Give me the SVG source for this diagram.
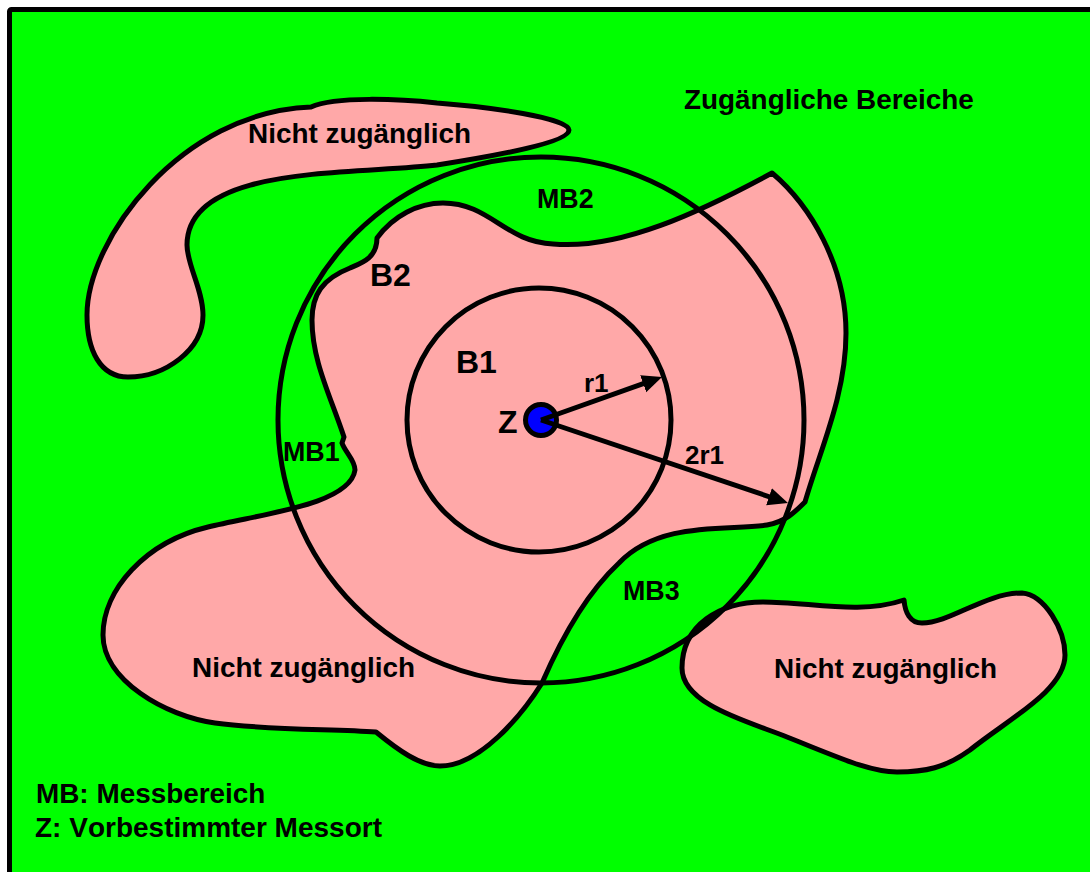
<svg xmlns="http://www.w3.org/2000/svg" width="1090" height="872" viewBox="0 0 1090 872">
<style>
.o{fill:none;stroke:#000;stroke-width:5}
.b{fill:#ffa8a8;stroke:#000;stroke-width:5;stroke-linejoin:round}
text{font-family:"Liberation Sans",Arial,sans-serif;font-weight:bold;fill:#000;font-kerning:none}
.l{font-size:27.900px}.k{font-size:28px}.m{font-size:26.800px}.s{font-size:32px}.t{font-size:26px}
</style>
<defs><marker id="a" markerUnits="userSpaceOnUse" markerWidth="22" markerHeight="20" refX="12" refY="9" orient="auto"><path d="M0 0L20 9L0 18z" fill="#000"/></marker></defs>
<rect x="9.500" y="9.500" width="1100" height="880" fill="#00ff00" stroke="#000" stroke-width="5" rx="2"/>
<g id="blob-top"><path class="b" d="M311 107C335 96 400 99 437 103C490 107 569 118 569 130C569 142 500 155 437 165C350 175 187 165 187 245C187 265 203 290 203 315C203 350 165 377 128 377C100 377 87 350 87 315C87 240 180 112 311 107Z"/></g>
<g id="blob-center"><path class="b" d="M772 173C810 205 846 265 846 333C846 395 820 450 805 502C795 512 785 522 767 525C730 531 660 520 619 563C590 590 565 630 542 683C522 715 480 766 440 766C420 766 398 750 376 732C330 729 265 730 215 723C165 716 103 680 103 635C103 590 145 542 208 527C260 514 350 505 355 470C355 460 345 452 342 443L344 437C330 395 312 360 312 320C312 295 322 279 350 268C362 263 377 258 377 238C393 216 418 203 443 203C490 203 505 242 553 244C620 250 700 212 772 173Z"/></g>
<g id="blob-right"><path class="b" d="M904 600C905 612 910 623 922 623C950 623 985 593 1022 593C1045 595 1065 630 1065 655C1065 690 1010 718 970 750C945 768 925 772 897 772C870 772 840 758 787 737C750 722 682 705 682 668C682 625 720 602 763 602C810 602 860 615 904 600Z"/></g>
<g id="circle-mb"><circle class="o" cx="541" cy="420" r="263"/></g>
<g id="circle-b1"><circle class="o" cx="539" cy="420" r="132"/></g>
<g id="node-z"><circle cx="541" cy="420" r="15.500" fill="#0000ff" stroke="#000" stroke-width="5"/></g>
<g id="connectors" stroke="#000" stroke-width="5" fill="none">
<path d="M541 420L654.500 379.700" marker-end="url(#a)"/>
<path d="M541 420L780.400 500.500" marker-end="url(#a)"/>
</g>
<g id="labels">
<text class="l" x="248" y="143">Nicht zugänglich</text>
<text class="l" x="192" y="677">Nicht zugänglich</text>
<text class="l" x="774" y="678">Nicht zugänglich</text>
<text class="l" x="684" y="109">Zugängliche Bereiche</text>
<text class="m" x="537" y="208">MB2</text>
<text class="m" x="283" y="461">MB1</text>
<text class="m" x="623" y="600">MB3</text>
<text class="s" x="370" y="286">B2</text>
<text class="s" x="456" y="373">B1</text>
<text class="s" x="498" y="433">Z</text>
<text class="t" x="584" y="392">r1</text>
<text class="t" x="685" y="464">2r1</text>
<text class="l" x="36" y="803">MB: Messbereich</text>
<text class="k" x="35" y="837">Z: Vorbestimmter Messort</text>
</g>
</svg>
